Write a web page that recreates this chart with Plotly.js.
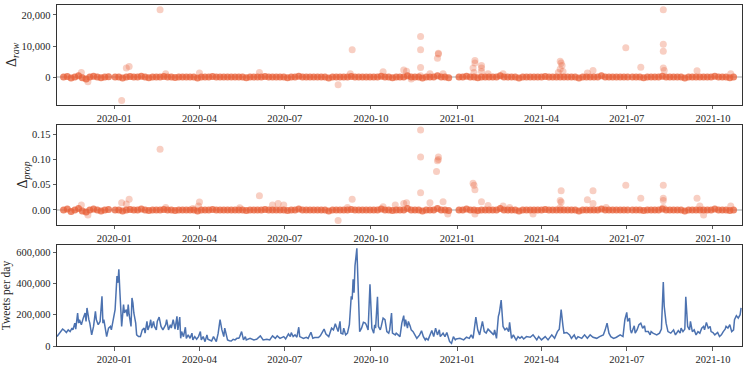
<!DOCTYPE html>
<html>
<head>
<meta charset="utf-8">
<script src="https://cdn.plot.ly/plotly-3.0.1.min.js"></script>
<style>
  body { margin: 0; background: #fff; }
  #plot { width: 748px; height: 366px; }
</style>
</head>
<body>
<div id="plot"></div>
<script>
// days are counted from 2019-11-01
const startDate = Date.UTC(2019, 10, 1);
function dayToDate(d) {
  return new Date(startDate + d * 86400000).toISOString().slice(0, 10);
}

// Tweets per day (values in thousands)
const tweetDay = [
  0,3,6,8,10,12,14,16,17,19, 20,22,23,24,26,28,30,31,32,34,
  35,37,39,41,42,44,46,48,49,50, 52,53,55,57,58,60,62,63,64,65,
  66,67,68,69,71,72,74,75,76,77, 79,80,81,82,84,85,87,89,91,93,
  94,96,97,99,100,101,103,104,106,107, 109,111,113,114,116,117,119,121,122,124,
  126,128,129,131,132,133,135,137,138,140, 142,144,145,147,149,151,153,154,156,158,
  160,161,163,165,167,169,170,172,174,176, 178,179,180,182,184,186,188,190,192,194,
  195,197,199,201,202,
  206,210,213,217,220,224,227,230,233,235, 238,242,244,247,249,250,252,254,256,258,
  259,263,266,268,271,273,275,279,281,285, 287,290,291,293,295,297,298,300,302,303,
  305,306,308,310,312,314,315,316,317,318, 320,321,322,323,325,327,329,330,332,334,
  335,336,338,339,340,342,343,345,346,348, 350,352,354,355,357,358,361,362,364,366,
  368,370,371,372,374,375,377,378,380,382, 384,387,389,391,393,394,396,400,402,404,
  406,408,409,412,414,416,418,419,421,423, 425,426,430,434,437,440,442,444,447,449,
  451,454,456,458,460,463,466,467,469,471, 472,
  474,476,478,480,482,483,485,487,489,490, 492,494,496,498,501,505,508,512,514,517,
  521,524,528,531,534,536,537,538,540,541, 544,547,549,552,554,556,560,563,566,569,
  572,576,579,583,585,587,589,591,594,597, 601,604,606,608,609,611,612,613,616,617,
  619,621,623,625,627,628,631,633,634,636, 640,643,645,647,648,650,652,655,658,660,
  663,665,666,668,670,671,673,675,676,678, 680,682,684,686,688,690,691,693,695,697,
  698,700,702,704,705,707,709,711,713,714, 716,718,720,722,723,725,727,729,730
];
const tweetK = [
  60,82,108,99,86,103,92,114,103,146, 108,211,146,168,136,178,211,157,243,168,
  146,71,125,221,168,136,157,318,146,168, 103,60,114,125,103,168,232,340,447,404,
  490,361,232,125,264,211,232,189,264,200, 125,307,275,211,146,71,60,60,103,114,
  82,157,103,136,168,114,157,125,103,157, 185,125,103,114,136,168,103,136,114,168,
  108,189,103,185,49,92,60,120,49,71, 49,82,39,60,43,60,92,39,60,28,
  71,43,39,32,60,43,28,82,168,103, 60,114,92,39,34,32,43,39,49,49,
  60,92,39,60,39,
  49,39,43,65,39,43,39,65,49,65, 49,60,45,77,60,86,60,71,56,120,
  60,49,56,49,88,49,54,54,65,108, 77,60,82,114,103,142,125,92,157,82,
  77,114,71,82,136,318,297,426,340,512, 624,469,211,92,114,151,146,136,103,394,
  254,114,82,136,114,314,125,103,125,178, 168,92,82,103,211,82,71,82,71,60,
  146,194,125,168,114,157,125,103,92,71, 49,71,97,60,39,49,39,99,60,114,
  71,103,60,82,60,86,49,28,17,60, 39,45,49,39,56,49,71,49,185,103,
  71,157,92,82,108,92,71,103,49,189, 211,
  293,125,103,114,92,151,49,71,49,39, 60,49,60,45,60,56,71,39,60,39,
  60,39,71,49,92,108,168,232,125,82, 86,71,49,71,43,60,49,71,49,71,
  56,49,60,71,103,146,82,60,49,56, 71,60,168,215,157,178,103,82,129,82,
  103,136,146,114,129,92,92,71,92,82, 71,82,108,409,254,146,92,82,103,71,
  99,82,114,92,108,314,125,103,157,92, 103,71,92,82,114,125,103,151,114,125,
  92,86,71,82,86,60,71,92,108,125, 114,136,92,103,168,194,178,200,243
];

// days with a near-zero difference, as [first, last] runs (one dot every 4 days)
const baseRuns = [[7, 55], [62, 62], [66, 418], [429, 609], [614, 722]];
const rawBase = [
  0,200,-300,0,400,-200,-600,0,300,0,-200,0,100,
  0,
  0,-300,0,200,0,0,300,0,-200,0, 0,0,200,0,0,-100,0,0,0,0,
  0,-300,0,0,0,200,0,0,0,0, 0,0,0,0,-200,0,0,0,0,200,
  0,0,0,0,0,-200,0,0,300,0, 0,0,0,0,0,0,-300,0,0,0,
  0,0,200,0,0,0,0,0,0,0, 300,0,0,-200,0,0,0,400,0,0,
  0,-300,0,0,0,400,0,0,-200,
  0,0,300,0,0,-200,0,0,0,0, 0,400,0,0,0,0,-300,0,0,0,
  0,0,0,200,0,0,0,0,0,0, 0,0,-300,0,0,0,0,0,400,0, 0,0,0,0,0,0,
  0,0,0,-200,0,0,0,0,300,0, 0,0,0,0,-300,0,0,0,0,0, 0,0,300,0,0,0,-200,0
];
const propBase = [
  0,0.002,-0.003,0,0.003,-0.002,-0.004,0,0.002,0,-0.002,0,0.001,
  0,
  0,-0.002,0,0.001,0,0,0.002,0,-0.001,0, 0,0,0.001,0,0,-0.001,0,0,0,0,
  0,-0.002,0,0,0,0.001,0,0,0,0, 0,0,0,0,-0.001,0,0,0,0,0.001,
  0,0,0,0,0,-0.001,0,0,0.002,0, 0,0,0,0,0,0,-0.002,0,0,0,
  0,0,0.001,0,0,0,0,0,0,0, 0.002,0,0,-0.001,0,0,0,0.003,0,0,
  0,-0.002,0,0,0,0.003,0,0,-0.001,
  0,0,0.002,0,0,-0.001,0,0,0,0, 0,0.003,0,0,0,0,-0.002,0,0,0,
  0,0,0,0.001,0,0,0,0,0,0, 0,0,-0.002,0,0,0,0,0,0.002,0, 0,0,0,0,0,0,
  0,0,0,-0.001,0,0,0,0,0.002,0, 0,0,0,0,-0.002,0,0,0,0,0, 0,0,0.002,0,0,0,-0.001,0
];

// larger differences
const rawOutDay = [
  26,33,69,74,77,110,116,152,216,300, 313,315,348,370,373,378,388,388,388,388,
  398,406,407,407,412,444,445,446,446,453, 453,453,460,476,535,537,537,538,539,540,
  566,572,607,623,647,647,647,647,648,683, 719
];
const rawOutVal = [
  1500,-1500,-7500,2900,3400,21700,1100,1300,1500,-2500, 1100,8800,1700,2300,1900,-600,13100,8800,3100,400,
  1100,6100,7700,7400,1100,2900,1500,5300,4500,3700, 2900,1800,1100,1100,1500,5100,2600,4500,3700,1800,
  1300,2100,9400,3200,21700,10600,8300,2900,2100,2000, 1100
];
const propOutDay = [
  26,33,69,74,77,110,116,145,151,152, 195,216,230,236,242,300,310,315,348,361,
  370,373,388,388,388,398,405,406,407,407, 412,417,444,445,446,446,453,460,476,483,
  508,537,537,538,538,566,572,572,586,607, 623,647,647,647,647,683,686,690,719
];
const propOutVal = [
  0.010,-0.010,0.0145,0.012,0.021,0.120,0.005,0.003,0.008,0.016,
  0.0046,0.028,0.010,0.013,0.010,-0.021,0.005,0.021,0.0066,0.010,
  0.013,0.0145,0.158,0.105,0.034,0.0145,0.076,0.0975,0.105,0.100,
  0.0165,-0.008,0.053,0.049,0.040,-0.008,0.0165,0.009,0.008,0.005,
  -0.008,0.0185,0.005,0.016,0.038,0.020,0.038,0.013,0.005,0.049,
  0.023,0.049,0.023,0.0185,0.005,0.023,0.008,-0.010,0.008
];

const xTickLabels = ['2020-01', '2020-04', '2020-07', '2020-10', '2021-01', '2021-04', '2021-07', '2021-10'];

// baseline dates
let baseDates = [];
baseRuns.forEach(r => {
  for (let d = r[0]; d <= r[1]; d += 4) baseDates.push(dayToDate(d));
});

const dotColor = 'rgb(232,96,56)';
const fontFam = 'Liberation Serif, Times New Roman, serif';
const ink = '#262626';

let traceRawBase = {
  x: baseDates, y: rawBase, xaxis: 'x', yaxis: 'y',
  type: 'scatter', mode: 'markers', hoverinfo: 'skip',
  marker: {color: dotColor, size: 7, opacity: 0.75, line: {width: 0}}
};
let traceRawOut = {
  x: rawOutDay.map(dayToDate), y: rawOutVal, xaxis: 'x', yaxis: 'y',
  type: 'scatter', mode: 'markers',
  marker: {color: dotColor, size: 7, opacity: 0.3, line: {width: 0}}
};
let tracePropBase = {
  x: baseDates, y: propBase, xaxis: 'x2', yaxis: 'y2',
  type: 'scatter', mode: 'markers', hoverinfo: 'skip',
  marker: {color: dotColor, size: 7, opacity: 0.75, line: {width: 0}}
};
let tracePropOut = {
  x: propOutDay.map(dayToDate), y: propOutVal, xaxis: 'x2', yaxis: 'y2',
  type: 'scatter', mode: 'markers',
  marker: {color: dotColor, size: 7, opacity: 0.3, line: {width: 0}}
};
let traceTweets = {
  x: tweetDay.map(dayToDate), y: tweetK.map(v => v * 1000), xaxis: 'x3', yaxis: 'y3',
  type: 'scatter', mode: 'lines',
  line: {color: '#4C72B0', width: 1.5}
};

let tickFont = {family: fontFam, size: 10.5, color: ink};
function xAxis(anchor) {
  return {
    type: 'date', anchor: anchor,
    range: ['2019-11-01', '2021-11-01'],
    tickvals: ['2020-01-01', '2020-04-01', '2020-07-01', '2020-10-01', '2021-01-01', '2021-04-01', '2021-07-01', '2021-10-01'],
    ticktext: xTickLabels,
    ticks: 'outside', ticklen: 3.5, tickwidth: 0.8, tickcolor: '#333',
    showline: true, mirror: true, linecolor: '#333', linewidth: 1,
    showgrid: false, zeroline: false, tickfont: tickFont
  };
}
function yAxis(anchor, domain, range, dtick, fmt, title) {
  return {
    anchor: anchor, domain: domain, range: range, dtick: dtick, tickformat: fmt,
    ticks: 'outside', ticklen: 3.5, tickwidth: 0.8, tickcolor: '#333',
    showline: true, mirror: true, linecolor: '#333', linewidth: 1,
    showgrid: false, zeroline: false, tickfont: tickFont,
    title: title
  };
}

let layout = {
  width: 748, height: 366,
  margin: {l: 57, r: 6, t: 5, b: 20},
  paper_bgcolor: '#fff', plot_bgcolor: '#fff',
  showlegend: false,
  font: {family: fontFam, color: ink},
  xaxis: xAxis('y'),
  xaxis2: xAxis('y2'),
  xaxis3: xAxis('y3'),
  yaxis: yAxis('x', [0.707, 1], [-8960, 23200], 10000, ',d',
    {text: 'Δ<sub><i>raw</i></sub>', font: {size: 14, family: fontFam, color: ink}, standoff: 1}),
  yaxis2: yAxis('x2', [0.355, 0.648], [-0.0296, 0.168], 0.05, '.2f',
    {text: 'Δ<sub><i>prop</i></sub>', font: {size: 14, family: fontFam, color: ink}, standoff: 1}),
  yaxis3: yAxis('x3', [0, 0.296], [0, 645000], 200000, ',d',
    {text: 'Tweets per day', font: {size: 11.5, family: fontFam, color: ink}, standoff: 3}),
  shapes: [
    {type: 'line', xref: 'x domain', x0: 0, x1: 1, yref: 'y', y0: 0, y1: 0,
     line: {color: '#c4c4c4', width: 1.5}, layer: 'below'},
    {type: 'line', xref: 'x2 domain', x0: 0, x1: 1, yref: 'y2', y0: 0, y1: 0,
     line: {color: '#c4c4c4', width: 1.5}, layer: 'below'}
  ]
};

Plotly.newPlot('plot', [traceRawBase, traceRawOut, tracePropBase, tracePropOut, traceTweets], layout, {displayModeBar: false, staticPlot: true});
</script>
</body>
</html>
